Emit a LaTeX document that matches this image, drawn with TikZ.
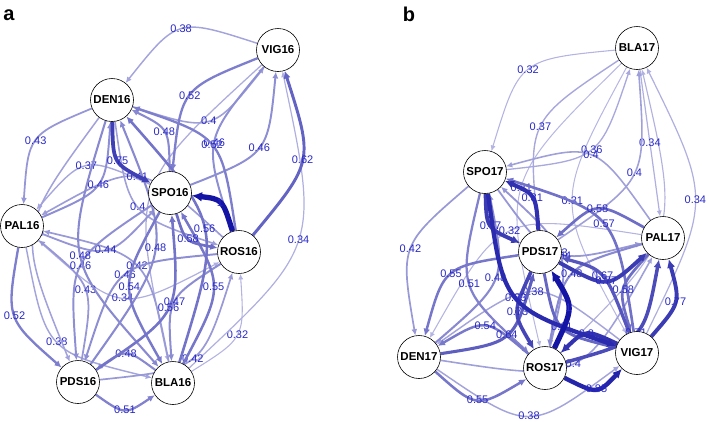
\documentclass[tikz,border=0pt]{standalone}
\usepackage{fontspec}
\setmainfont{Liberation Sans}
\usetikzlibrary{arrows.meta}
\usetikzlibrary{backgrounds,calc}
\definecolor{ecol}{RGB}{20,20,165}
\definecolor{labcol}{RGB}{40,40,200}

\begin{document}
\begin{tikzpicture}[x=1pt,y=-1pt]
\tikzset{circ/.style={circle,draw=black,fill=white,line width=0.6pt,minimum size=43pt,inner sep=0pt,font=\fontsize{11.5}{12}\selectfont\bfseries},
  elab/.style={font=\fontsize{11}{11}\selectfont,text=labcol,inner sep=0pt},
  panel/.style={font=\fontsize{20}{20}\selectfont\bfseries,inner sep=0pt},
  arr/.style={-{Latex[length=4.5pt 1.1,width=4pt 1.1]}},
  wt/.code={\pgfmathsetmacro\edgelw{6.2*#1-0.9}%
    \pgfmathsetmacro\edgepc{min(100,115*#1-5)}%
    \colorlet{edgecol}{ecol!\edgepc!white}%
    \pgfkeysalso{/tikz/line width=\edgelw pt,/tikz/draw=edgecol,/tikz/arr}},
  via/.style={to path={.. controls ($1.3333*(#1)-0.1667*(\tikztostart)-0.1667*(\tikztotarget)$) .. (\tikztotarget) \tikztonodes}}}

\useasboundingbox (0,0) rectangle (709,421);

% panel a
\node[panel] (pa) at (9,15) {a};
\node[circ] (vig16) at (278,50) {VIG16};
\node[circ] (den16) at (112,100) {DEN16};
\node[circ] (spo16) at (170,193) {SPO16};
\node[circ] (pal16) at (22,226) {PAL16};
\node[circ] (ros16) at (239,252) {ROS16};
\node[circ] (pds16) at (78,382) {PDS16};
\node[circ] (bla16) at (173,383) {BLA16};

% panel b
\node[panel] (pb) at (409,14) {b};
\node[circ] (bla17) at (637,48) {BLA17};
\node[circ] (spo17) at (485,172) {SPO17};
\node[circ] (pal17) at (663,238) {PAL17};
\node[circ] (pds17) at (540,252) {PDS17};
\node[circ] (den17) at (419,357) {DEN17};
\node[circ] (ros17) at (545,368) {ROS17};
\node[circ] (vig17) at (637,353) {VIG17};

\begin{scope}[on background layer]
\draw[wt=0.32] (bla16) to[via={235,333}] node[elab]{0.32} (ros16);
\draw[wt=0.34] (bla16) to[via={296,239}] node[elab]{0.34} (vig16);
\draw[wt=0.34] (pal16) to[via={123,295}] node[elab]{0.34} (ros16);
\draw[wt=0.35] (vig16) to[via={154,193}] (bla16);
\draw[wt=0.37] (spo16) to[via={87,169}] node[elab]{0.37} (pal16);
\draw[wt=0.38] (vig16) to[via={182,32}] node[elab]{0.38} (den16);
\draw[wt=0.38] (pal16) to[via={59,340}] node[elab]{0.38} (bla16);
\draw[wt=0.39] (den16) to[via={36,233}] node[elab]{0.39} (pds16);
\draw[wt=0.4] (den16) to[via={208,118}] node[elab]{0.4} (vig16);
\draw[wt=0.4] (den16) to[via={140,205}] node[elab]{0.4} (ros16);
\draw[wt=0.41] (ros16) to[via={137,180}] node[elab]{0.41} (pal16);
\draw[wt=0.42] (bla16) to[via={135,268}] node[elab]{0.42} (pal16);
\draw[wt=0.42] (pds16) to[via={191,356}] node[elab]{0.42} (ros16);
\draw[wt=0.43] (den16) to[via={38,142}] node[elab]{0.43} (pal16);
\draw[wt=0.43] (pds16) to[via={83,291}] node[elab]{0.43} (pal16);
\draw[wt=0.44] (pal16) to[via={105,247}] node[elab]{0.44} (spo16);
\draw[wt=0.46] (spo16) to[via={257,146}] node[elab]{0.46} (vig16);
\draw[wt=0.46] (vig16) to[via={217,143}] node[elab]{0.46} (ros16);
\draw[wt=0.46] (pal16) to[via={96,183}] node[elab]{0.46} (den16);
\draw[wt=0.46] (spo16) to[via={83,267}] node[elab]{0.46} (pds16);
\draw[wt=0.46] (ros16) to[via={127,277}] node[elab]{0.46} (pds16);
\draw[wt=0.47] (ros16) to[via={177,303}] node[elab]{0.47} (bla16);
\draw[wt=0.48] (spo16) to[via={162,133}] node[elab]{0.48} (den16);
\draw[wt=0.48] (pds16) to[via={153,247}] node[elab]{0.48} (den16);
\draw[wt=0.48] (den16) to[via={83,255}] node[elab]{0.48} (bla16);
\draw[wt=0.48] (bla16) to[via={126,357}] node[elab]{0.48} (pds16);
\draw[wt=0.51] (pds16) to[via={125,407}] node[elab]{0.51} (bla16);
\draw[wt=0.52] (vig16) to[via={192,97}] node[elab]{0.52} (spo16);
\draw[wt=0.52] (ros16) to[via={210,147}] node[elab]{0.52} (den16);
\draw[wt=0.52] (pal16) to[via={17,315}] node[elab]{0.52} (pds16);
\draw[wt=0.54] (spo16) to[via={132,287}] node[elab]{0.54} (bla16);
\draw[wt=0.55] (bla16) to[via={211,287}] node[elab]{0.55} (spo16);
\draw[wt=0.56] (bla16) to[via={202,229}] node[elab]{0.56} (den16);
\draw[wt=0.56] (pds16) to[via={166,307}] node[elab]{0.56} (spo16);
\draw[wt=0.58] (spo16) to[via={190,237}] node[elab]{0.58} (ros16);
\draw[wt=0.62] (ros16) to[via={300,159}] node[elab]{0.62} (vig16);
\draw[wt=0.75] (den16) to[via={120,159}] node[elab]{0.75} (spo16);
\draw[wt=1] (ros16) to[via={218,205}] node[elab]{1} (spo16);

\draw[wt=0.31] (bla17) to[via={524,188}] node[elab]{0.31} (ros17);
\draw[wt=0.31] (bla17) to[via={575,201}] node[elab]{0.31} (vig17);
\draw[wt=0.32] (bla17) to[via={530,72}] node[elab]{0.32} (spo17);
\draw[wt=0.32] (pal17) to[via={511,234}] node[elab]{0.32} (den17);
\draw[wt=0.33] (ros17) to[via={658,228}] (bla17);
\draw[wt=0.34] (vig17) to[via={693,200}] node[elab]{0.34} (bla17);
\draw[wt=0.34] (bla17) to[via={650,143}] node[elab]{0.34} (pal17);
\draw[wt=0.36] (spo17) to[via={590,147}] node[elab]{0.36} (bla17);
\draw[wt=0.37] (bla17) to[via={543,128}] node[elab]{0.37} (pds17);
\draw[wt=0.38] (vig17) to[via={533,295}] node[elab]{0.38} (den17);
\draw[wt=0.38] (den17) to[via={529,413}] node[elab]{0.38} (vig17);
\draw[wt=0.4] (pds17) to[via={632,172}] node[elab]{0.4} (bla17);
\draw[wt=0.4] (pal17) to[via={590,158}] node[elab]{0.4} (spo17);
\draw[wt=0.4] (den17) to[via={572,361}] node[elab]{0.4} (pal17);
\draw[wt=0.42] (spo17) to[via={413,250}] node[elab]{0.42} (den17);
\draw[wt=0.43] (spo17) to[via={558,250}] node[elab]{0.43} (pal17);
\draw[wt=0.44] (ros17) to[via={558,257}] node[elab]{0.44} (spo17);
\draw[wt=0.48] (den17) to[via={493,277}] node[elab]{0.48} (spo17);
\draw[wt=0.48] (pal17) to[via={574,276}] node[elab]{0.48} (ros17);
\draw[wt=0.51] (spo17) to[via={472,283}] node[elab]{0.51} (ros17);
\draw[wt=0.54] (ros17) to[via={485,329}] node[elab]{0.54} (den17);
\draw[wt=0.55] (pds17) to[via={453,276}] node[elab]{0.55} (den17);
\draw[wt=0.55] (den17) to[via={478,397}] node[elab]{0.55} (ros17);
\draw[wt=0.57] (vig17) to[via={602,226}] node[elab]{0.57} (spo17);
\draw[wt=0.58] (pal17) to[via={598,212}] node[elab]{0.58} (pds17);
\draw[wt=0.58] (pal17) to[via={626,290}] node[elab]{0.58} (vig17);
\draw[wt=0.61] (pds17) to[via={564,325}] node[elab]{0.61} (vig17);
\draw[wt=0.64] (den17) to[via={505,333}] node[elab]{0.64} (pds17);
\draw[wt=0.67] (vig17) to[via={601,278}] node[elab]{0.67} (pds17);
\draw[wt=0.71] (ros17) to[via={634,331}] node[elab]{0.71} (pal17);
\draw[wt=0.73] (pds17) to[via={520,312}] node[elab]{0.73} (ros17);
\draw[wt=0.77] (spo17) to[via={493,224}] node[elab]{0.77} (pds17);
\draw[wt=0.77] (pds17) to[via={606,278}] node[elab]{0.77} (pal17);
\draw[wt=0.77] (vig17) to[via={673,301}] node[elab]{0.77} (pal17);
\draw[wt=0.8] (vig17) to[via={587,337}] node[elab]{0.8} (ros17);
\draw[wt=0.81] (pds17) to[via={530,199}] node[elab]{0.81} (spo17);
\draw[wt=0.83] (spo17) to[via={518,296}] node[elab]{0.83} (vig17);
\draw[wt=0.85] (ros17) to[via={596,386}] node[elab]{0.85} (vig17);
\draw[wt=1] (ros17) to[via={566,308}] node[elab]{1} (pds17);
\end{scope}
\end{tikzpicture}
\end{document}
